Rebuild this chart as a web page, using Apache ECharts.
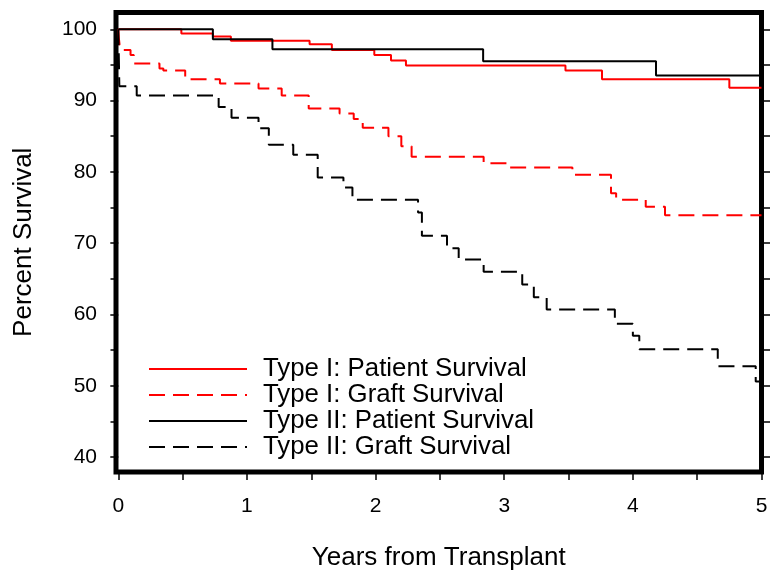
<!DOCTYPE html>
<html>
<head>
<meta charset="utf-8">
<script src="https://cdn.jsdelivr.net/npm/echarts@6/dist/echarts.min.js"></script>
<style>
html,body{margin:0;padding:0;background:#fff;}
#chart{width:770px;height:571px;}
</style>
</head>
<body>
<div id="chart"></div>
<script>
// Series names
const seriesNames = ['Type I: Patient Survival', 'Type I: Graft Survival', 'Type II: Patient Survival', 'Type II: Graft Survival'];

// Type I patient survival (years, percent)
const typeIPatientT = [0, 0.49, 0.735, 0.875, 1.487, 1.66, 1.99, 2.12, 2.236, 3.476, 3.76, 4.75, 5];
const typeIPatientS = [100, 99.4, 99.0, 98.4, 97.9, 97.1, 96.4, 95.6, 94.9, 94.2, 93.0, 91.8, 91.8];

// Type I graft survival
const typeIGraftT = [0, 0.004, 0.01, 0.018, 0.095, 0.12, 0.32, 0.35, 0.52, 0.79, 1.09, 1.27, 1.48, 1.72, 1.83, 1.9, 2.1, 2.2, 2.28, 2.84, 3.04, 3.53, 3.83, 3.87, 4.1, 4.25, 5];
const typeIGraftS = [100, 98.8, 97.8, 97.1, 96.4, 95.2, 94.5, 94.2, 93.0, 92.4, 91.7, 90.7, 88.9, 88.2, 87.4, 86.2, 85.0, 83.6, 82.1, 81.2, 80.6, 79.6, 77.0, 76.1, 75.1, 73.9, 73.9];

// Type II patient survival
const typeIIPatientT = [0, 0.735, 1.198, 2.836, 4.18, 5];
const typeIIPatientS = [100, 98.6, 97.2, 95.5, 93.5, 93.5];

// Type II graft survival
const typeIIGraftT = [0, 0.008, 0.143, 0.78, 0.88, 1.09, 1.17, 1.36, 1.55, 1.75, 1.82, 2.33, 2.36, 2.555, 2.646, 2.84, 3.14, 3.23, 3.33, 3.86, 4.0, 4.05, 4.66, 4.955, 5];
const typeIIGraftS = [100, 92.0, 90.7, 89.1, 87.6, 86.1, 83.8, 82.4, 79.2, 77.8, 76.1, 74.3, 71.05, 69.3, 67.7, 66.0, 64.2, 62.4, 60.7, 58.7, 57.0, 55.1, 52.75, 50.6, 50.6];

// Ticks and labels
const xTickValues = [0, 0.5, 1, 1.5, 2, 2.5, 3, 3.5, 4, 4.5, 5];
const xLabelValues = [0, 1, 2, 3, 4, 5];
const yMajorValues = [40, 50, 60, 70, 80, 90, 100];
const yMinorValues = [45, 55, 65, 75, 85, 95];
const yRightValues = [40, 45, 50, 55, 60, 65, 70, 75, 80, 85, 90, 95, 100];

const FONT = "'Liberation Sans', Arial, sans-serif";
const X_MIN = -0.018, X_MAX = 5;
const Y_MIN = 37.9, Y_MAX = 102.35;

function pairs(t, s) { return t.map((x, i) => [x, s[i]]); }

const chart = echarts.init(document.getElementById('chart'), null, {renderer: 'canvas'});

function lineSeries(name, t, s, color, dashed) {
  return {
    name: name,
    type: 'line',
    step: 'end',
    symbol: 'none',
    showSymbol: false,
    data: pairs(t, s),
    lineStyle: {color: color, width: 2, type: dashed ? [16, 8] : 'solid'},
    itemStyle: {color: color},
    emphasis: {disabled: true},
    xAxisIndex: 0,
    yAxisIndex: 0
  };
}

const option = {
  animation: false,
  backgroundColor: '#fff',
  textStyle: {fontFamily: FONT},
  grid: {left: 116, right: 8.5, top: 12.5, bottom: 99, outerBoundsMode: 'none', containLabel: false, show: true, borderWidth: 5, borderColor: '#000', backgroundColor: 'transparent'},
  legend: {
    orient: 'vertical',
    left: 148,
    top: 356,
    padding: 0,
    itemWidth: 98,
    itemHeight: 26,
    itemGap: 0,
    data: seriesNames,
    itemStyle: {color: 'rgba(0,0,0,0)', borderColor: 'rgba(0,0,0,0)', borderWidth: 0, opacity: 0},
    textStyle: {fontSize: 25.8, color: '#000', fontFamily: FONT, lineHeight: 26, padding: [0, 0, 0, 11]}
  },
  xAxis: [{
    type: 'value', min: X_MIN, max: X_MAX,
    name: 'Years from Transplant', nameLocation: 'middle', nameGap: 73,
    nameTextStyle: {fontSize: 26, color: '#000', fontFamily: FONT},
    axisLine: {show: false},
    splitLine: {show: false},
    axisTick: {show: true, customValues: xTickValues, length: 8, lineStyle: {color: '#000', width: 1.5}},
    axisLabel: {customValues: xLabelValues, fontSize: 21, color: '#000', margin: 24, fontFamily: FONT}
  }],
  yAxis: [{
    type: 'value', min: Y_MIN, max: Y_MAX, position: 'left',
    name: 'Percent Survival', nameLocation: 'middle', nameGap: 79,
    nameTextStyle: {fontSize: 26, color: '#000', fontFamily: FONT},
    axisLine: {show: false},
    splitLine: {show: false},
    axisTick: {show: true, customValues: yMajorValues, length: 8, lineStyle: {color: '#000', width: 1.5}},
    axisLabel: {customValues: yMajorValues, fontSize: 21, color: '#000', margin: 19, fontFamily: FONT}
  }, {
    type: 'value', min: Y_MIN, max: Y_MAX, position: 'left',
    axisLine: {show: false},
    splitLine: {show: false},
    axisTick: {show: true, customValues: yMinorValues, length: 5.5, lineStyle: {color: '#000', width: 1.5}},
    axisLabel: {show: false}
  }, {
    type: 'value', min: Y_MIN, max: Y_MAX, position: 'right',
    axisLine: {show: false},
    splitLine: {show: false},
    axisTick: {show: true, customValues: yRightValues, length: 9, lineStyle: {color: '#000', width: 1.5}},
    axisLabel: {show: false}
  }],
  series: [
    lineSeries(seriesNames[0], typeIPatientT, typeIPatientS, '#ff0000', false),
    lineSeries(seriesNames[1], typeIGraftT, typeIGraftS, '#ff0000', true),
    lineSeries(seriesNames[2], typeIIPatientT, typeIIPatientS, '#000000', false),
    lineSeries(seriesNames[3], typeIIGraftT, typeIIGraftS, '#000000', true)
  ]
};
chart.setOption(option);
</script>
</body>
</html>
